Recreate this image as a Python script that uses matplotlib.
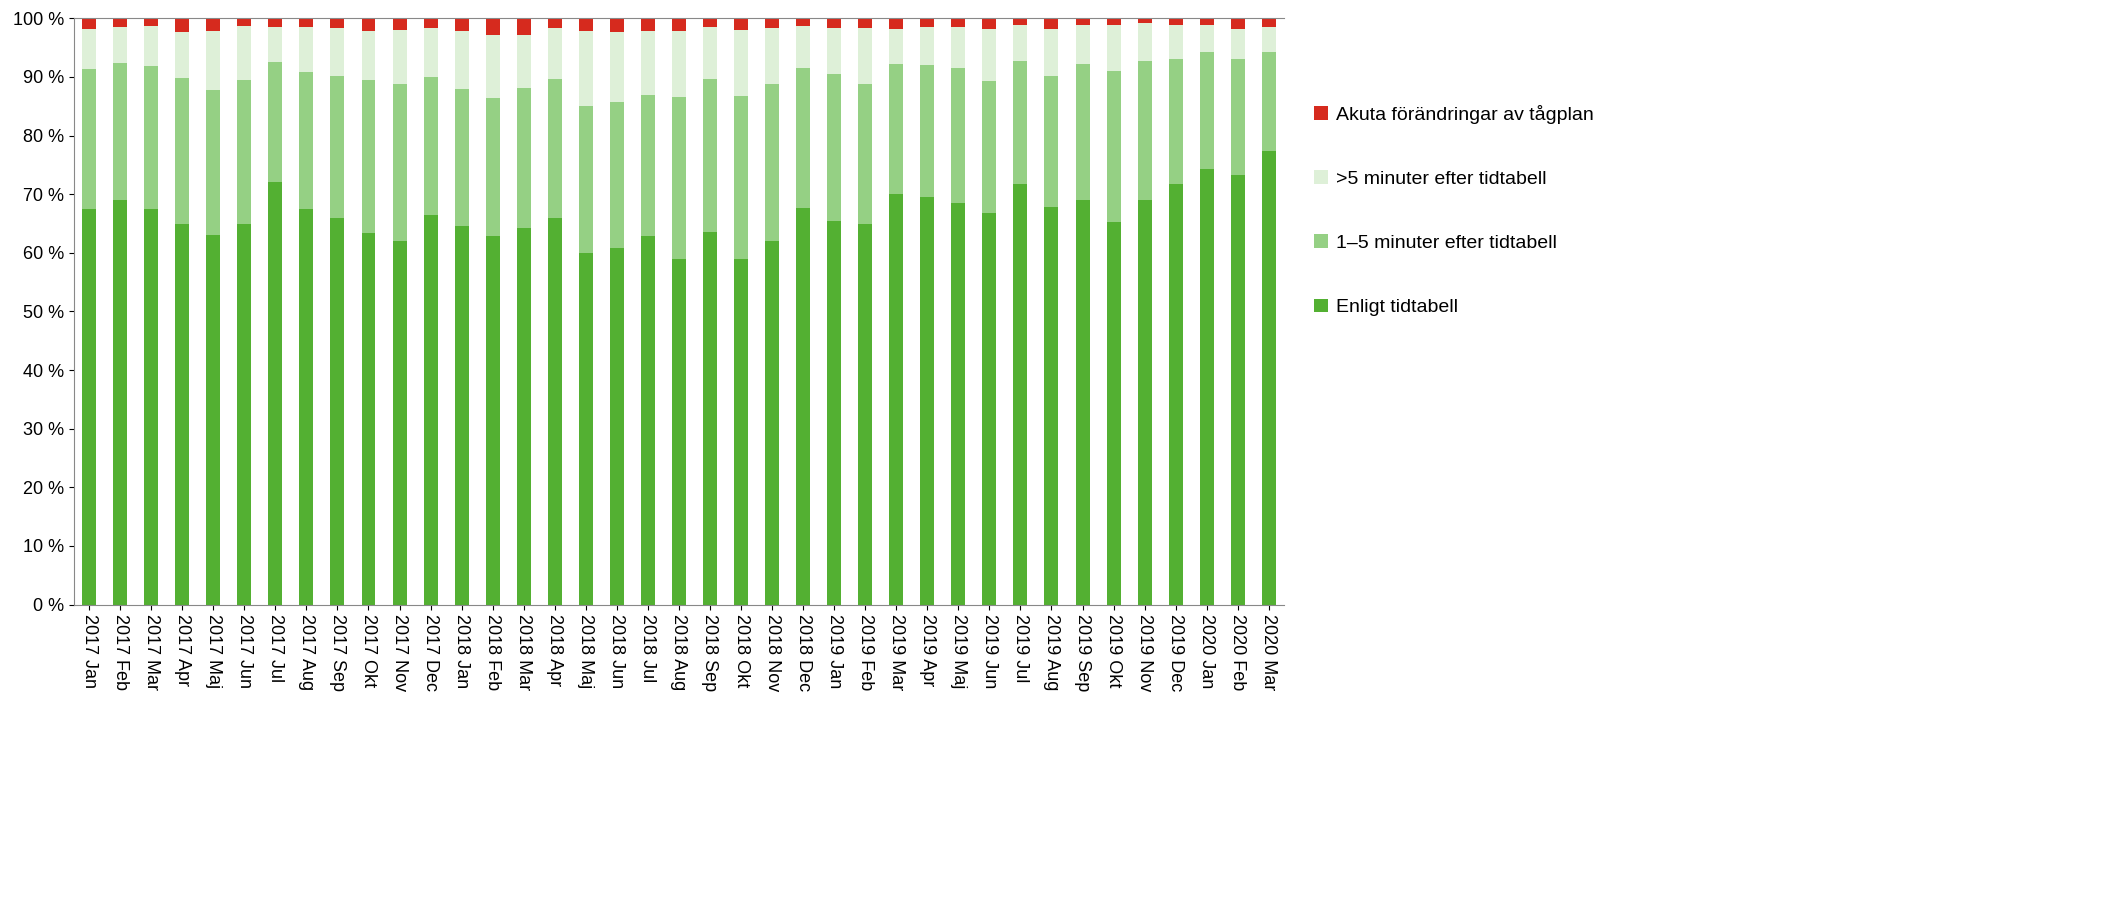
import numpy as np
import matplotlib.pyplot as plt
from matplotlib.ticker import FuncFormatter

plt.rcParams['font.family'] = ['Liberation Sans', 'DejaVu Sans']

manader = ['Jan', 'Feb', 'Mar', 'Apr', 'Maj', 'Jun', 'Jul', 'Aug', 'Sep', 'Okt', 'Nov', 'Dec']
labels = [f'{y} {m}' for y in (2017, 2018, 2019) for m in manader] + ['2020 Jan', '2020 Feb', '2020 Mar']

# cumulative tops (%)
enligt = [67.5, 69, 67.5, 65, 63, 65, 72, 67.5, 66, 63.3, 62, 66.5,
          64.5, 62.8, 64.2, 66, 60, 60.8, 62.8, 59, 63.5, 59, 62, 67.7,
          65.5, 65, 70, 69.5, 68.5, 66.8, 71.8, 67.8, 69, 65.3, 69, 71.7,
          74.3, 73.3, 77.3]
top_1_5 = [91.3, 92.3, 91.8, 89.8, 87.8, 89.4, 92.5, 90.8, 90.2, 89.4, 88.8, 90,
           88, 86.4, 88.1, 89.7, 85.1, 85.8, 87, 86.5, 89.7, 86.8, 88.8, 91.5,
           90.5, 88.8, 92.2, 92.1, 91.5, 89.3, 92.7, 90.2, 92.2, 91, 92.8, 93.1,
           94.3, 93, 94.3]
top_5plus = [98.1, 98.6, 98.7, 97.7, 97.9, 98.7, 98.6, 98.5, 98.3, 97.8, 98, 98.3,
             97.9, 97.1, 97.2, 98.4, 97.8, 97.7, 97.8, 97.9, 98.5, 98, 98.3, 98.7,
             98.3, 98.3, 98.1, 98.5, 98.5, 98.1, 98.8, 98.1, 98.9, 98.8, 99.2, 98.8,
             98.9, 98.2, 98.5]

enligt = np.array(enligt)
min1_5 = np.array(top_1_5) - enligt
over5 = np.array(top_5plus) - np.array(top_1_5)
akuta = 100 - np.array(top_5plus)

fig = plt.figure(figsize=(21.02, 9.16), dpi=100)
ax = fig.add_axes([0.035, 0.34, 0.576, 0.64])
x = np.arange(len(labels))
w = 0.45
ax.bar(x, enligt, w, color='#53B032', label='Enligt tidtabell')
ax.bar(x, min1_5, w, bottom=enligt, color='#95D084', label='1–5 minuter efter tidtabell')
ax.bar(x, over5, w, bottom=enligt + min1_5, color='#DEF0D8', label='>5 minuter efter tidtabell')
ax.bar(x, akuta, w, bottom=np.array(top_5plus), color='#D62A1E', label='Akuta förändringar av tågplan')

ax.set_xlim(-0.5, len(labels) - 0.5)
ax.set_ylim(0, 100)
ax.set_yticks(range(0, 101, 10))
ax.yaxis.set_major_formatter(FuncFormatter(lambda v, p: f'{v:.0f} %'))
ax.set_xticks(x)
ax.set_xticklabels(labels, rotation=270, fontsize=13)
ax.tick_params(axis='y', labelsize=13)
ax.spines['right'].set_visible(False)
for s in ('top', 'left', 'bottom'):
    ax.spines[s].set_color('#888888')

h, l = ax.get_legend_handles_labels()
fig.legend(h[::-1], l[::-1], loc='upper left', bbox_to_anchor=(0.617, 0.905),
           frameon=False, fontsize=14, handlelength=0.7, handleheight=0.7,
           labelspacing=2.4, handletextpad=0.4)

fig.savefig('out.png')
